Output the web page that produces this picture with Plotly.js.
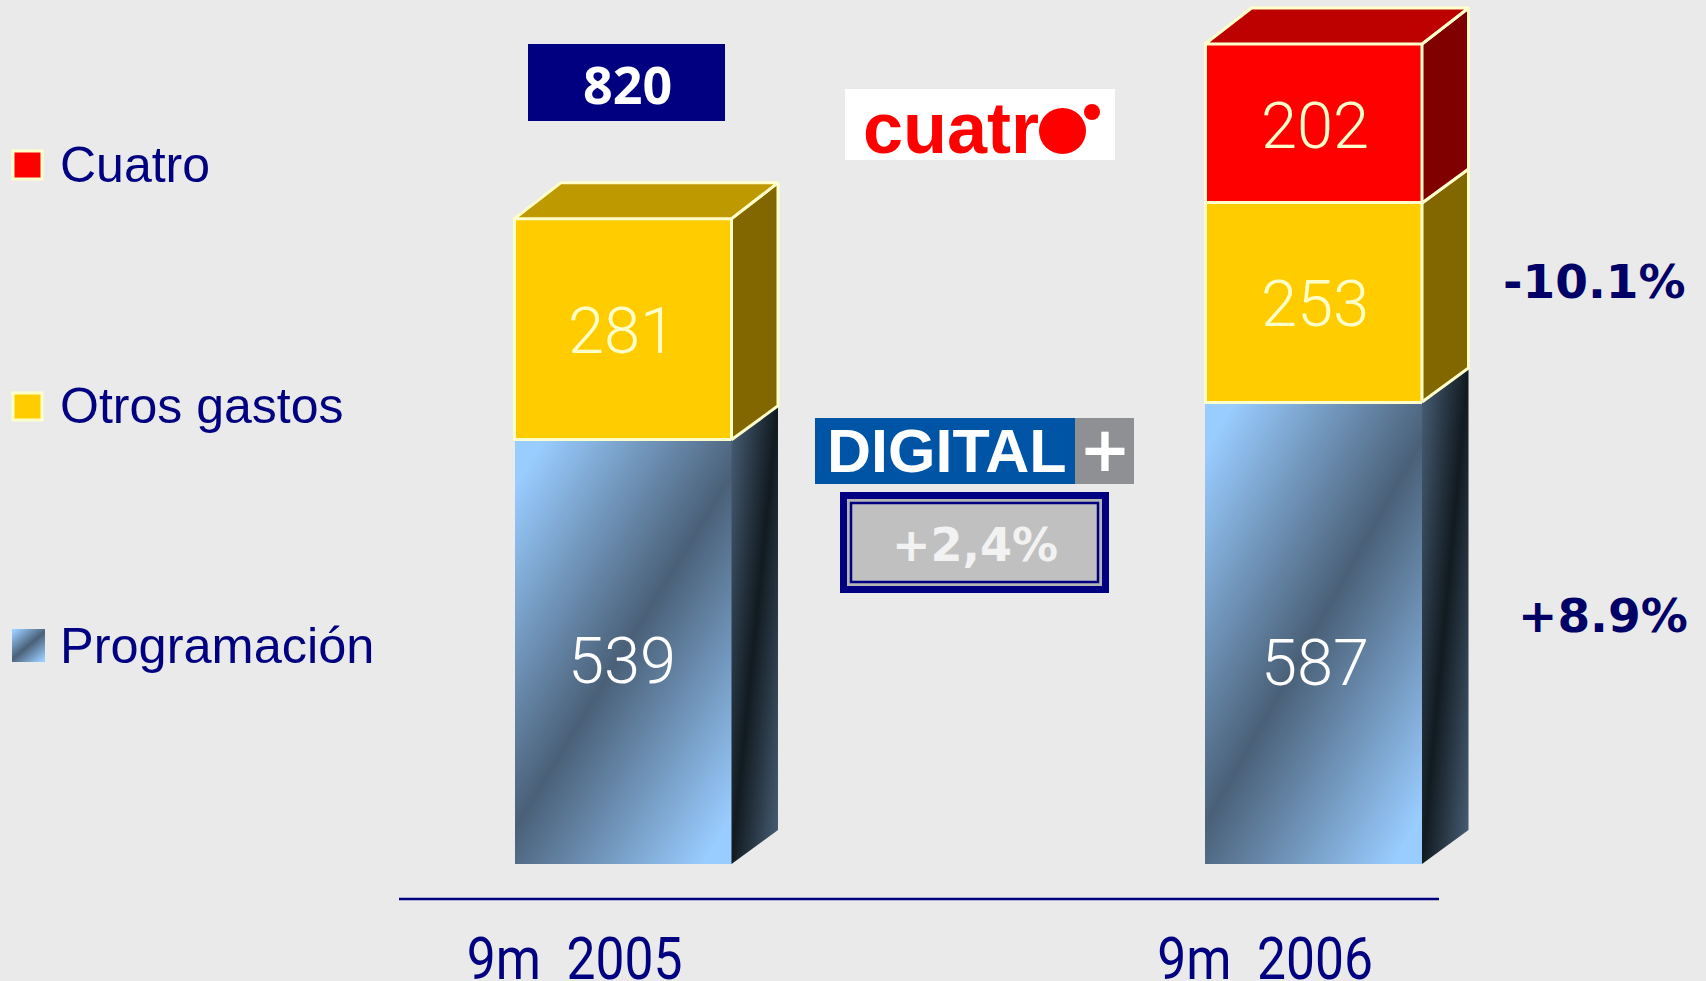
<!DOCTYPE html>
<html>
<head>
<meta charset="utf-8">
<script src="https://cdn.plot.ly/plotly-3.0.1.min.js"></script>
<style>html,body{margin:0;padding:0;background:#EAEAEA;overflow:hidden}#chart{width:1706px;height:981px}</style>
</head>
<body>
<div id="chart"></div>
<script>
// ---- data ----
const periods = ["9m  2005", "9m  2006"];
const programacion = [539, 587];
const otrosGastos = [281, 253];
const cuatro = [null, 202];
const seriesNames = ["Cuatro", "Otros gastos", "Programación"];
const total2005 = "820";
const changeOtros = "-10.1%";
const changeProgramacion = "+8.9%";
const changeDigital = "+2,4%";

// ---- geometry of the page ----
const W = 1706, H = 981;
const plotL = 399, plotR = 1706, lineEnd = 1439, axisY = 899, baseY = 864;
const pxPerUnit = 0.787, pxPerStep = 690.5, firstBarPx = 623;
const barPx = 217, depthX = 46.5, depthY = 34, depthTop = 36;
const NAVY = "#000080", EDGE = "#FFFFCC", BG = "#EAEAEA";
const FRONT_KEY = "rgb(74, 96, 120)", SIDE_KEY = "rgb(17, 26, 32)";

const plotW = plotR - plotL;
const xStart = (plotL - firstBarPx) / pxPerStep;
const xEnd = xStart + plotW / pxPerStep;
const yStart = -(axisY - baseY) / pxPerUnit;
const yEnd = yStart + axisY / pxPerUnit;
const bw = barPx / pxPerStep, dx = depthX / pxPerStep, dy = depthY / pxPerUnit, dyTop = depthTop / pxPerUnit;
const px = p => (p - plotL) / plotW;
const py = p => (axisY - p) / axisY;
const idx = periods.map((_, i) => i);

const SANS = "Liberation Sans", VERA = "DejaVu Sans", ROB = "Roboto";

function frontBar(name, values, color, edge) {
  return {type: "bar", name, x: idx, y: values, width: bw, cliponaxis: false, hoverinfo: "skip",
    marker: {color, line: {color: edge ? EDGE : color, width: edge ? 3 : 0}}};
}
function poly(xs, ys, fill, edge) {
  return {type: "scatter", x: xs, y: ys, fill: "toself", fillcolor: fill, cliponaxis: false,
    mode: edge ? "lines" : "none", line: {color: EDGE, width: 3}, hoverinfo: "skip", showlegend: false};
}

const traces = [
  frontBar("Programación", programacion, FRONT_KEY, false),
  frontBar("Otros gastos", otrosGastos, "#FFCC00", true),
  frontBar("Cuatro", cuatro, "#FF0000", true)
];
const labels = [];
const layers = [
  {v: programacion, side: SIDE_KEY, top: "#4A6078", edge: false, text: "#FFFFFF", shift: -9},
  {v: otrosGastos, side: "#826600", top: "#BF9900", edge: true, text: "#FFFFCC", shift: -2},
  {v: cuatro, side: "#800000", top: "#BD0000", edge: true, text: "#FFFFCC", shift: -3}
];
idx.forEach(i => {
  let sum = 0, lastTop = null;
  const present = layers.filter(l => l.v[i] !== null);
  present.forEach((l, k) => {
    const val = l.v[i];
    const y0 = sum, y1 = sum + val, r = i + bw / 2;
    const up = k === present.length - 1 ? dyTop : dy;
    traces.push(poly([r, r + dx, r + dx, r, r], [y0, y0 + dy, y1 + up, y1, y0], l.side, l.edge));
    labels.push({x: i, y: (y0 + y1) / 2, text: String(val), color: l.text,
      xshift: i === 0 ? -1 : 1, shift: l.shift + (i === 1 && l.v === programacion ? -21 : 0)});
    sum = y1;
    lastTop = l;
  });
  const r = i + bw / 2, q = i - bw / 2;
  traces.push(poly([q, q + dx, r + dx, r, q], [sum, sum + dyTop, sum + dyTop, sum, sum], lastTop.top, true));
});

function note(x, y, text, size, color, family, opts) {
  const o = opts || {};
  return {xref: "paper", yref: "paper", x: px(x), y: py(y), text, showarrow: false,
    xanchor: o.anchor || "center", yanchor: "middle",
    font: {size, color, family, weight: o.weight || 400}};
}
function rect(x0, y0, x1, y1, fill, lineColor, lineW, type) {
  return {type: type || "rect", xref: "paper", yref: "paper", x0: px(x0), x1: px(x1), y0: py(y1), y1: py(y0),
    fillcolor: fill, line: {color: lineColor || fill, width: lineW || 0}};
}

const annotations = labels.map(l => ({
  xref: "x", yref: "y", x: l.x, y: l.y, text: l.text, showarrow: false, yshift: l.shift, xshift: l.xshift,
  font: {size: 65, color: l.color, family: ROB, weight: 300}
})).concat([
  note(58, 165, seriesNames[0], 50, NAVY, SANS, {anchor: "left"}),
  note(58, 406, seriesNames[1], 50, NAVY, SANS, {anchor: "left"}),
  note(58, 645, seriesNames[2], 50.5, NAVY, SANS, {anchor: "left"}),
  note(627, 83, total2005, 52, "#FFFFFF", "Open Sans", {weight: 700}),
  note(1594, 281, changeOtros, 47, "#000066", VERA, {weight: 700}),
  note(1603, 615, changeProgramacion, 47, "#000066", VERA, {weight: 700}),
  note(975, 545, changeDigital, 46, "#F2F2F2", VERA, {weight: 700}),
  note(946, 451, "DIGITAL", 61, "#FFFFFF", SANS, {weight: 700}),
  note(1105, 449, "+", 62, "#FFFFFF", VERA, {weight: 700}),
  note(951, 128, "cuatr", 72, "#FF0000", SANS, {weight: 700})
]);

const shapes = [
  // legend swatches
  rect(13, 151, 42, 179, "#FF0000", EDGE, 3),
  rect(13, 393, 42, 420, "#FFCC00", EDGE, 3),
  rect(12, 629, 45, 662, FRONT_KEY),
  // base line of the chart
  {type: "line", xref: "paper", yref: "paper", x0: 0, x1: px(lineEnd), y0: 0, y1: 0, line: {color: NAVY, width: 2.5}},
  // total box
  rect(528, 44, 725, 121, NAVY),
  // Cuatro logo
  rect(845, 89, 1115, 160, "#FFFFFF"),
  rect(1039, 108, 1086, 154, "#FF0000", null, 0, "circle"),
  rect(1084, 104, 1100, 120, "#FF0000", null, 0, "circle"),
  // Digital+ logo
  rect(815, 418, 1075, 484, "#0054A6"),
  rect(1075, 418, 1134, 484, "#8F9093"),
  // change box
  rect(840, 492, 1109, 593, NAVY),
  rect(847, 499, 1102, 586, "#B4B4B4"),
  rect(851, 503, 1098, 582, "#C0C0C0", NAVY, 2.5)
];

const layout = {
  width: W, height: H, autosize: false, showlegend: false, barmode: "stack", bargap: 0,
  paper_bgcolor: BG, plot_bgcolor: BG,
  margin: {l: plotL, r: W - plotR, t: 0, b: H - axisY, pad: 0},
  xaxis: {type: "linear", range: [xStart, xEnd], showgrid: false, zeroline: false, fixedrange: true,
    showline: false,
    tickmode: "array", tickvals: idx.map(i => i - 0.07), ticktext: periods.map(s => s.replace(/ /g, "\u00A0")),
    ticks: "outside", ticklen: 7, tickcolor: "rgba(0,0,0,0)",
    tickfont: {size: 60, color: NAVY, family: ROB}},
  yaxis: {range: [yStart, yEnd], visible: false, fixedrange: true},
  shapes, annotations
};

function addGradient(defs, id, v, stops) {
  const NS = "http://www.w3.org/2000/svg";
  const g = document.createElementNS(NS, "linearGradient");
  g.setAttribute("id", id);
  g.setAttribute("x1", v[0]); g.setAttribute("y1", v[1]);
  g.setAttribute("x2", v[2]); g.setAttribute("y2", v[3]);
  stops.forEach(s => {
    const e = document.createElementNS(NS, "stop");
    e.setAttribute("offset", s[0]);
    e.setAttribute("stop-color", s[1]);
    g.appendChild(e);
  });
  defs.appendChild(g);
}

Plotly.newPlot("chart", traces, layout, {displayModeBar: false, staticPlot: true}).then(gd => {
  const svg = gd.querySelector(".main-svg");
  const defs = svg.querySelector("defs");
  addGradient(defs, "blueFront", [0.05, -0.04, 0.95, 1.04], [[0.06, "#99CCFF"], [0.5, "#4A6078"], [0.94, "#99CCFF"]]);
  addGradient(defs, "blueSide", [0, 0, 1, 1], [[0, "#4A6078"], [0.5, "#111A20"], [1, "#4A6078"]]);
  gd.querySelectorAll("path").forEach(p => {
    if (p.style.fill === FRONT_KEY && !p.closest(".scatterlayer")) p.style.fill = "url(#blueFront)";
    else if (p.style.fill === SIDE_KEY) p.style.fill = "url(#blueSide)";
  });
  // the reference's period labels use a condensed face: narrow the tick text around its centre
  gd.querySelectorAll(".xtick text").forEach(t => {
    const cx = parseFloat(t.getAttribute("x"));
    const cur = t.getAttribute("transform") || "";
    t.setAttribute("transform", cur + " translate(" + cx + " 0) scale(0.86 1) translate(" + (-cx) + " 0)");
  });
});
</script>
</body>
</html>
